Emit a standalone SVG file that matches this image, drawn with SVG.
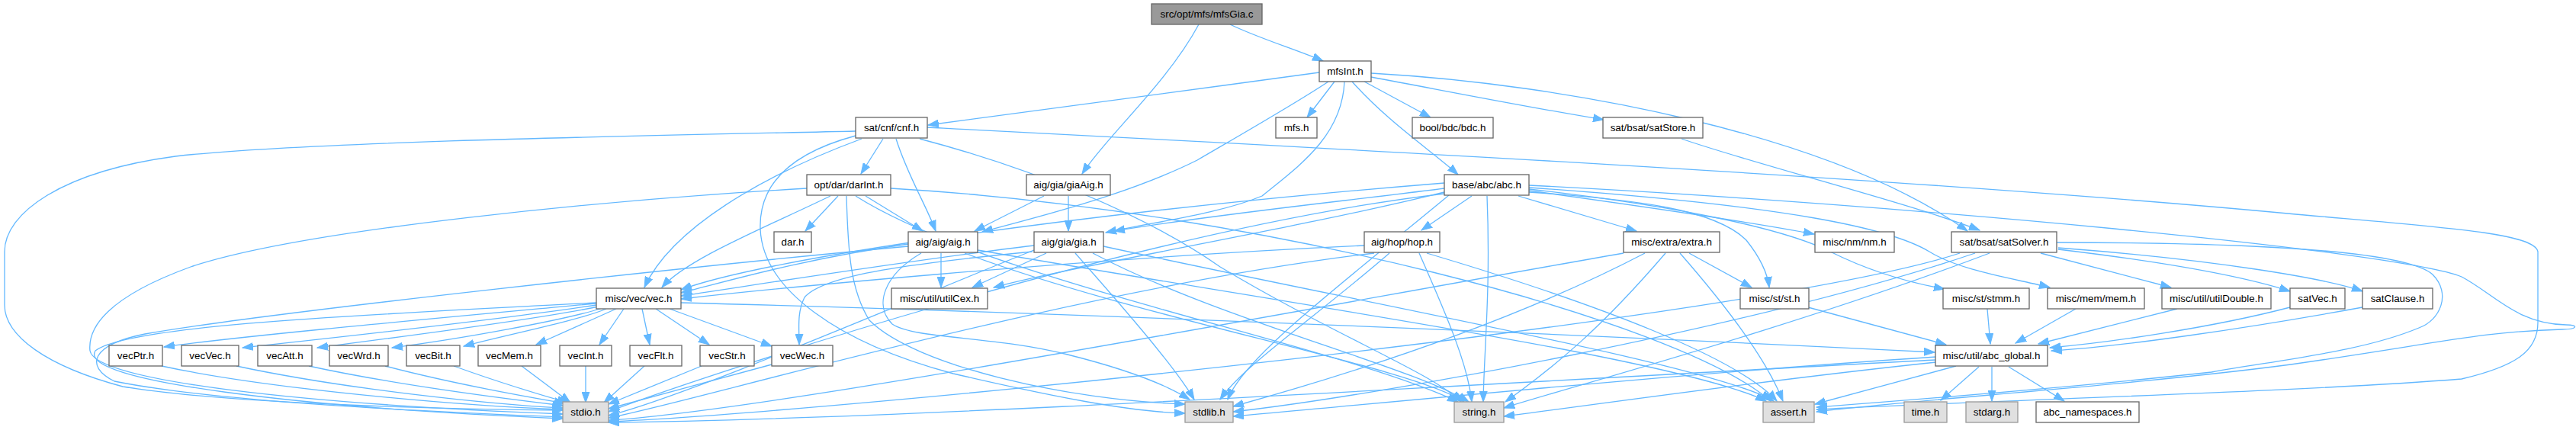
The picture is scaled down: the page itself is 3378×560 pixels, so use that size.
<svg xmlns="http://www.w3.org/2000/svg" width="3378" height="560" viewBox="0 0 3378 560">
<style>
.n rect{fill:#ffffff;stroke:#666666;stroke-width:1.3}
.r rect{fill:#999999;stroke:#666666;stroke-width:1.3}
.s rect{fill:#e0e0e0;stroke:#999999;stroke-width:1.3}
text{font-family:"Liberation Sans",Arial,sans-serif;font-size:13.4px;fill:#000;text-anchor:middle}
#edges path{fill:none;stroke:#63b8ff;stroke-width:1.3;marker-end:url(#a)}
</style>
<defs>
<marker id="a" markerUnits="userSpaceOnUse" markerWidth="15" markerHeight="11" refX="14" refY="5.5" orient="auto"><path d="M0,0.5 L14,5.5 L0,10.5 z" fill="#63b8ff" stroke="#63b8ff" stroke-width="1"/></marker>
</defs>
<rect width="3378" height="560" fill="#ffffff"/>
<g id="edges">
<path d="M1613,32 C1650,50 1700,65 1735,80"/>
<path d="M1572,32 C1530,110 1450,180 1419,228"/>
<path d="M1730,95 C1550,120 1350,145 1217,164"/>
<path d="M1750,107 L1714,154"/>
<path d="M1789,107 L1876,154"/>
<path d="M1798,101 C1900,120 2000,140 2103,157"/>
<path d="M1798,96 C2050,110 2400,175 2580,303"/>
<path d="M1773,107 C1820,160 1880,200 1912,229"/>
<path d="M1742,107 C1700,135 1630,175 1570,210 C1480,255 1360,285 1288,304"/>
<path d="M1763,107 C1760,180 1700,220 1655,257 C1600,280 1520,290 1450,305"/>
<path d="M1894,247 C1780,262 1600,280 1461,303"/>
<path d="M2205,182 C2300,215 2500,265 2596,302"/>
<path d="M1158,182 L1129,228"/>
<path d="M1175,182 C1190,230 1215,270 1227,303"/>
<path d="M1130,182 C1000,230 880,300 845,377"/>
<path d="M1122,172 C900,177 400,185 230,205 C80,225 6,280 6,330 L6,400 C6,440 60,480 161,507 C300,530 600,537 738,538"/>
<path d="M1122,178 C1040,200 995,240 997,300 C1000,380 1100,450 1250,490 C1380,520 1480,540 1554,542"/>
<path d="M1206,182 C1350,220 1500,280 1600,350 C1750,440 1880,490 1916,527"/>
<path d="M1216,167 C1700,192 2500,233 3000,280 C3200,298 3323,305 3328,330 L3328,423 C3328,460 3300,480 3228,497 C3000,515 2600,525 2382,537"/>
<path d="M1099,257 L1056,303"/>
<path d="M1135,257 L1210,303"/>
<path d="M1089,257 C1000,300 900,340 868,377"/>
<path d="M1058,247 C800,262 400,300 250,350 C140,390 115,430 118,460 C125,500 400,530 738,543"/>
<path d="M1110,257 C1112,330 1115,380 1140,420 C1200,480 1400,525 1554,530"/>
<path d="M1122,257 C1300,370 1750,450 1912,527"/>
<path d="M1168,247 C1650,275 2200,420 2322,526"/>
<path d="M1369,257 L1278,303"/>
<path d="M1401,257 L1401,303"/>
<path d="M1930,257 L1864,302"/>
<path d="M1991,257 L2146,303"/>
<path d="M2005,250 C2150,270 2300,292 2379,307"/>
<path d="M2005,252 C2150,262 2250,275 2290,315 C2310,340 2318,360 2320,377"/>
<path d="M2005,248 C2200,270 2340,300 2400,330 C2450,355 2500,370 2550,379"/>
<path d="M2005,246 C2350,270 2480,300 2530,330 C2570,355 2640,365 2688,377"/>
<path d="M1894,240 C1400,280 1000,340 893,380"/>
<path d="M1894,252 C1700,300 1400,350 1303,377"/>
<path d="M1894,254 C1500,300 900,500 798,540"/>
<path d="M1900,256 C1750,380 1630,470 1610,524"/>
<path d="M1950,257 C1955,380 1946,460 1945,527"/>
<path d="M2005,243 C2500,268 3150,330 3228,363 C3270,385 3300,425 3365,426 C3382,426 3380,432 3360,432 C3250,435 3200,450 3004,478 C2800,505 2500,525 2382,540"/>
<path d="M1234,332 L1234,377"/>
<path d="M1191,320 C1050,340 950,370 893,384"/>
<path d="M1191,323 C900,350 350,410 190,438 C120,452 110,480 150,500 C300,530 600,541 738,547"/>
<path d="M1208,332 C1160,360 1145,400 1170,425 C1200,445 1300,440 1400,465 C1480,485 1530,505 1560,524"/>
<path d="M1265,332 C1500,420 1850,480 1920,527"/>
<path d="M1282,328 C1700,400 2200,470 2316,526"/>
<path d="M1356,322 C1200,340 950,380 893,388"/>
<path d="M1354,330 C1200,345 1080,360 1055,390 C1045,410 1048,430 1048,452"/>
<path d="M1372,332 L1275,377"/>
<path d="M1356,328 C1200,390 900,520 798,545"/>
<path d="M1410,332 C1470,400 1540,480 1566,524"/>
<path d="M1433,332 C1600,420 1850,480 1926,527"/>
<path d="M1447,323 C1800,400 2250,480 2326,526"/>
<path d="M1789,322 C1400,340 1000,380 893,392"/>
<path d="M1802,332 C1400,380 900,530 798,548"/>
<path d="M1822,332 C1720,420 1630,480 1600,524"/>
<path d="M1861,332 C1900,420 1925,480 1930,527"/>
<path d="M1871,332 C2100,400 2280,470 2330,526"/>
<path d="M2215,332 L2297,377"/>
<path d="M2129,332 C1700,407 1000,540 798,551"/>
<path d="M2157,332 C1950,440 1700,510 1617,533"/>
<path d="M2184,332 C2100,430 2040,480 1974,527"/>
<path d="M2203,332 C2280,420 2320,480 2338,526"/>
<path d="M2676,332 L2847,377"/>
<path d="M2699,327 C2850,345 2950,365 3003,382"/>
<path d="M2699,325 C2900,340 3050,365 3098,382"/>
<path d="M2570,332 C2300,420 1100,540 798,553"/>
<path d="M2590,332 C2300,430 1800,520 1617,540"/>
<path d="M2609,332 C2350,430 2050,510 1972,535"/>
<path d="M2697,318 C2900,318 3150,325 3190,360 C3215,385 3200,420 3172,430 C3100,460 3004,470 2900,488 C2700,510 2500,525 2382,534"/>
<path d="M782,398 C600,415 320,440 215,455"/>
<path d="M782,400 C650,420 420,445 318,456"/>
<path d="M785,402 C700,420 500,445 416,456"/>
<path d="M790,404 C740,420 600,445 514,456"/>
<path d="M795,405 C760,420 660,440 608,454"/>
<path d="M808,405 L703,452"/>
<path d="M818,405 L786,452"/>
<path d="M842,405 L852,452"/>
<path d="M860,405 L930,452"/>
<path d="M878,405 L1012,454"/>
<path d="M782,397 C500,412 170,425 125,460 C100,500 400,535 738,549"/>
<path d="M893,397 C1400,410 2100,440 2537,462"/>
<path d="M212,480 C350,510 600,532 738,537"/>
<path d="M310,480 C450,510 640,530 738,535"/>
<path d="M405,480 C520,505 680,525 739,532"/>
<path d="M505,480 C600,505 700,522 741,529"/>
<path d="M595,480 C650,500 715,520 745,528"/>
<path d="M684,480 L748,528"/>
<path d="M768,480 L768,528"/>
<path d="M845,480 L792,528"/>
<path d="M920,480 L798,530"/>
<path d="M1012,478 L798,536"/>
<path d="M2371,403 L2552,452"/>
<path d="M2606,405 L2610,451"/>
<path d="M2722,405 L2643,450"/>
<path d="M2855,405 L2673,451"/>
<path d="M3003,403 C2900,430 2760,450 2688,456"/>
<path d="M3098,403 C2950,430 2780,455 2690,460"/>
<path d="M2539,472 C2000,500 1200,550 798,554"/>
<path d="M2539,468 C2200,490 1800,530 1617,546"/>
<path d="M2539,475 C2300,500 2100,530 1972,546"/>
<path d="M2565,480 L2380,530"/>
<path d="M2595,481 L2545,525"/>
<path d="M2612,481 L2612,526"/>
<path d="M2634,481 L2707,526"/>
</g>
<g id="mfsGia_c" class="r"><rect x="1510" y="5" width="145" height="27"/><text x="1582.5" y="23">src/opt/mfs/mfsGia.c</text></g>
<g id="mfsInt_h" class="n"><rect x="1730" y="80" width="68" height="27"/><text x="1764" y="98">mfsInt.h</text></g>
<g id="cnf_h" class="n"><rect x="1122" y="154" width="94" height="27"/><text x="1169" y="172">sat/cnf/cnf.h</text></g>
<g id="mfs_h" class="n"><rect x="1673" y="154" width="54" height="27"/><text x="1700" y="172">mfs.h</text></g>
<g id="bdc_h" class="n"><rect x="1852" y="154" width="106" height="27"/><text x="1905" y="172">bool/bdc/bdc.h</text></g>
<g id="satStore_h" class="n"><rect x="2102" y="154" width="131" height="27"/><text x="2167.5" y="172">sat/bsat/satStore.h</text></g>
<g id="darInt_h" class="n"><rect x="1058" y="229" width="110" height="27"/><text x="1113" y="247">opt/dar/darInt.h</text></g>
<g id="giaAig_h" class="n"><rect x="1346" y="229" width="110" height="27"/><text x="1401" y="247">aig/gia/giaAig.h</text></g>
<g id="abc_h" class="n"><rect x="1894" y="229" width="111" height="27"/><text x="1949.5" y="247">base/abc/abc.h</text></g>
<g id="dar_h" class="n"><rect x="1015" y="304" width="49" height="27"/><text x="1039.5" y="322">dar.h</text></g>
<g id="aig_h" class="n"><rect x="1191" y="304" width="91" height="27"/><text x="1236.5" y="322">aig/aig/aig.h</text></g>
<g id="gia_h" class="n"><rect x="1356" y="304" width="91" height="27"/><text x="1401.5" y="322">aig/gia/gia.h</text></g>
<g id="hop_h" class="n"><rect x="1789" y="304" width="99" height="27"/><text x="1838.5" y="322">aig/hop/hop.h</text></g>
<g id="extra_h" class="n"><rect x="2129" y="304" width="126" height="27"/><text x="2192" y="322">misc/extra/extra.h</text></g>
<g id="nm_h" class="n"><rect x="2380" y="304" width="104" height="27"/><text x="2432" y="322">misc/nm/nm.h</text></g>
<g id="satSolver_h" class="n"><rect x="2559" y="304" width="138" height="27"/><text x="2628" y="322">sat/bsat/satSolver.h</text></g>
<g id="vec_h" class="n"><rect x="782" y="378" width="111" height="27"/><text x="837.5" y="396">misc/vec/vec.h</text></g>
<g id="utilCex_h" class="n"><rect x="1169" y="378" width="126" height="27"/><text x="1232" y="396">misc/util/utilCex.h</text></g>
<g id="st_h" class="n"><rect x="2282" y="378" width="90" height="27"/><text x="2327" y="396">misc/st/st.h</text></g>
<g id="stmm_h" class="n"><rect x="2548" y="378" width="113" height="27"/><text x="2604.5" y="396">misc/st/stmm.h</text></g>
<g id="mem_h" class="n"><rect x="2685" y="378" width="127" height="27"/><text x="2748.5" y="396">misc/mem/mem.h</text></g>
<g id="utilDouble_h" class="n"><rect x="2835" y="378" width="143" height="27"/><text x="2906.5" y="396">misc/util/utilDouble.h</text></g>
<g id="satVec_h" class="n"><rect x="3003" y="378" width="72" height="27"/><text x="3039" y="396">satVec.h</text></g>
<g id="satClause_h" class="n"><rect x="3098" y="378" width="92" height="27"/><text x="3144" y="396">satClause.h</text></g>
<g id="vecPtr_h" class="n"><rect x="143" y="453" width="70" height="27"/><text x="178" y="471">vecPtr.h</text></g>
<g id="vecVec_h" class="n"><rect x="238" y="453" width="75" height="27"/><text x="275.5" y="471">vecVec.h</text></g>
<g id="vecAtt_h" class="n"><rect x="338" y="453" width="71" height="27"/><text x="373.5" y="471">vecAtt.h</text></g>
<g id="vecWrd_h" class="n"><rect x="432" y="453" width="77" height="27"/><text x="470.5" y="471">vecWrd.h</text></g>
<g id="vecBit_h" class="n"><rect x="533" y="453" width="70" height="27"/><text x="568" y="471">vecBit.h</text></g>
<g id="vecMem_h" class="n"><rect x="627" y="453" width="82" height="27"/><text x="668" y="471">vecMem.h</text></g>
<g id="vecInt_h" class="n"><rect x="734" y="453" width="68" height="27"/><text x="768" y="471">vecInt.h</text></g>
<g id="vecFlt_h" class="n"><rect x="826" y="453" width="68" height="27"/><text x="860" y="471">vecFlt.h</text></g>
<g id="vecStr_h" class="n"><rect x="918" y="453" width="71" height="27"/><text x="953.5" y="471">vecStr.h</text></g>
<g id="vecWec_h" class="n"><rect x="1012" y="453" width="80" height="27"/><text x="1052" y="471">vecWec.h</text></g>
<g id="abc_global_h" class="n"><rect x="2538" y="453" width="147" height="27"/><text x="2611.5" y="471">misc/util/abc_global.h</text></g>
<g id="stdio_h" class="s"><rect x="738" y="527" width="60" height="27"/><text x="768" y="545">stdio.h</text></g>
<g id="stdlib_h" class="s"><rect x="1554" y="527" width="63" height="27"/><text x="1585.5" y="545">stdlib.h</text></g>
<g id="string_h" class="s"><rect x="1907" y="527" width="65" height="27"/><text x="1939.5" y="545">string.h</text></g>
<g id="assert_h" class="s"><rect x="2312" y="527" width="67" height="27"/><text x="2345.5" y="545">assert.h</text></g>
<g id="time_h" class="s"><rect x="2497" y="527" width="56" height="27"/><text x="2525" y="545">time.h</text></g>
<g id="stdarg_h" class="s"><rect x="2578" y="527" width="68" height="27"/><text x="2612" y="545">stdarg.h</text></g>
<g id="abc_namespaces_h" class="n"><rect x="2670" y="527" width="135" height="27"/><text x="2737.5" y="545">abc_namespaces.h</text></g>
</svg>
